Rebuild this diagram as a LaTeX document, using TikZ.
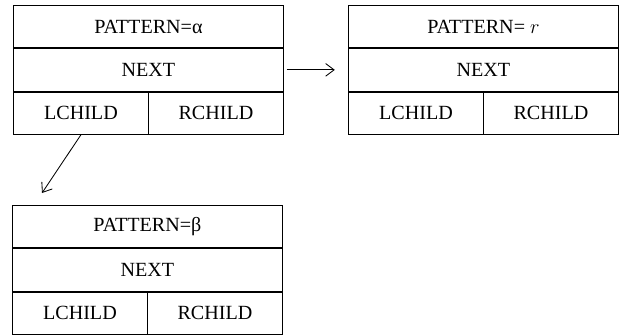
\documentclass[tikz,border=0pt]{standalone}
\usepackage{fontspec}
\setmainfont{Liberation Serif}
\usetikzlibrary{positioning,arrows.meta}

\begin{document}
\begin{tikzpicture}[x=0.025cm, y=-0.025cm,
    cell/.style={rectangle, draw, line width=0.6pt, minimum height=1.06cm, inner sep=0pt, font=\fontsize{14.3}{17}\selectfont},
    wide/.style={cell, minimum width=6.75cm},
    half/.style={cell, minimum width=3.375cm},
    link/.style={-{Straight Barb[length=6pt, width=9pt]}, line width=0.6pt}
]
\useasboundingbox (0,0) rectangle (623,335);

% three records: pattern, next, left and right child
\foreach \r/\x/\y/\p in {a/13/5/{PATTERN=α}, b/348/5/{PATTERN= $r$}, c/12/205/{PATTERN=β}} {
    \node[wide, anchor=north west] (pat\r) at (\x,\y) {\p};
    \node[wide, below=0pt of pat\r] (next\r) {NEXT};
    \node[half, anchor=north west] (lc\r) at (next\r.south west) {LCHILD};
    \node[half, anchor=north east] (rc\r) at (next\r.south east) {RCHILD};
}

% links
\draw[link, shorten <=2pt, shorten >=0.33cm] (nexta.east) -- (nextb.west);
\coordinate (tipc) at (42,193);
\draw[link] (lca.south) -- (tipc);

\end{tikzpicture}
\end{document}
